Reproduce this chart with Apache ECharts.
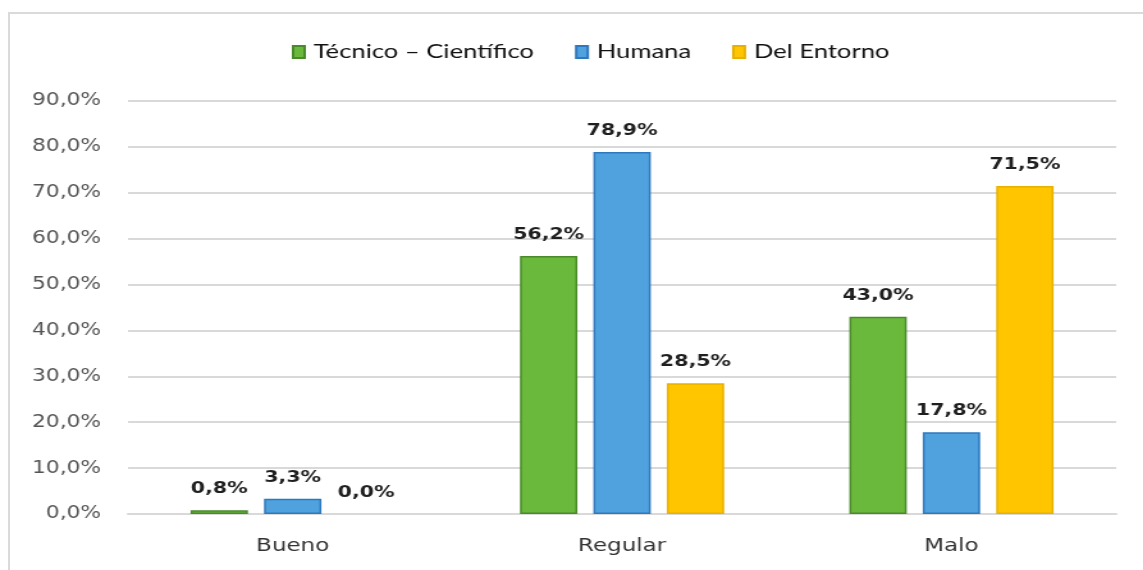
<!DOCTYPE html>
<html>
<head>
<meta charset="utf-8">
<script src="https://cdn.jsdelivr.net/npm/echarts@6/dist/echarts.min.js"></script>
<style>
  html, body { margin: 0; padding: 0; background: #ffffff; overflow: hidden; }
  #frame { position: absolute; left: 8px; top: 12px; width: 1160px; height: 580px; border: 2px solid #dadada; box-sizing: border-box; }
  /* the chart is laid out narrow and widened, giving its wide lettering */
  #chart { position: absolute; left: 0; top: 0; width: 893px; height: 570px; transform: scaleX(1.28); transform-origin: 0 0; }
</style>
</head>
<body>
<div id="frame"></div>
<div id="chart"></div>
<script>
// Evaluation levels and the three dimensions measured for each
const categories = ['Bueno', 'Regular', 'Malo'];
const seriesNames = ['Técnico – Científico', 'Humana', 'Del Entorno'];
const tecnicoCientifico = [0.8, 56.2, 43.0];
const humana = [3.3, 78.9, 17.8];
const delEntorno = [0.0, 28.5, 71.5];

const fills = ['#6ab93c', '#4fa2de', '#ffc600'];
const borders = ['#4a8a2a', '#2f78bd', '#e8b000'];
const values = [tecnicoCientifico, humana, delEntorno];

const fmt = v => v.toFixed(1).replace('.', ',') + '%';

const chart = echarts.init(document.getElementById('chart'), null, { renderer: 'canvas' });
chart.setOption({
  animation: false,
  backgroundColor: 'transparent',
  legend: {
    top: 37,
    left: 223,
    itemWidth: 9,
    itemHeight: 12,
    itemGap: 32,
    icon: 'rect',
    textStyle: { fontFamily: 'Lato', fontSize: 20, color: '#111111', padding: [0, 0, 0, 2] },
    data: seriesNames
  },
  grid: { left: 100, right: 21, top: 101, bottom: 56, containLabel: false },
  xAxis: {
    type: 'category',
    data: categories,
    axisLine: { lineStyle: { color: '#d9d9d9', width: 2 } },
    axisTick: { show: false },
    axisLabel: { fontFamily: 'DejaVu Sans', fontSize: 18, color: '#333333', margin: 23 }
  },
  yAxis: {
    type: 'value',
    min: 0,
    max: 90,
    interval: 10,
    axisLine: { show: false },
    axisTick: { show: false },
    axisLabel: {
      fontFamily: 'DejaVu Sans',
      fontSize: 17,
      color: '#555555',
      margin: 21,
      formatter: v => fmt(v)
    },
    splitLine: { lineStyle: { color: '#d9d9d9', width: 2 } }
  },
  series: seriesNames.map((name, i) => ({
    name,
    type: 'bar',
    data: values[i].map(v => ({
      value: v,
      itemStyle: { borderWidth: v > 0 ? 1.5 : 0 }
    })),
    barGap: '28%',
    barCategoryGap: '38%',
    itemStyle: { color: fills[i], borderColor: borders[i], borderWidth: 1.5 },
    label: {
      show: true,
      position: 'top',
      distance: 13,
      fontFamily: 'DejaVu Sans',
      fontWeight: 'bold',
      fontSize: 16,
      color: '#1f1f1f',
      formatter: p => fmt(p.value)
    }
  }))
});
</script>
</body>
</html>
